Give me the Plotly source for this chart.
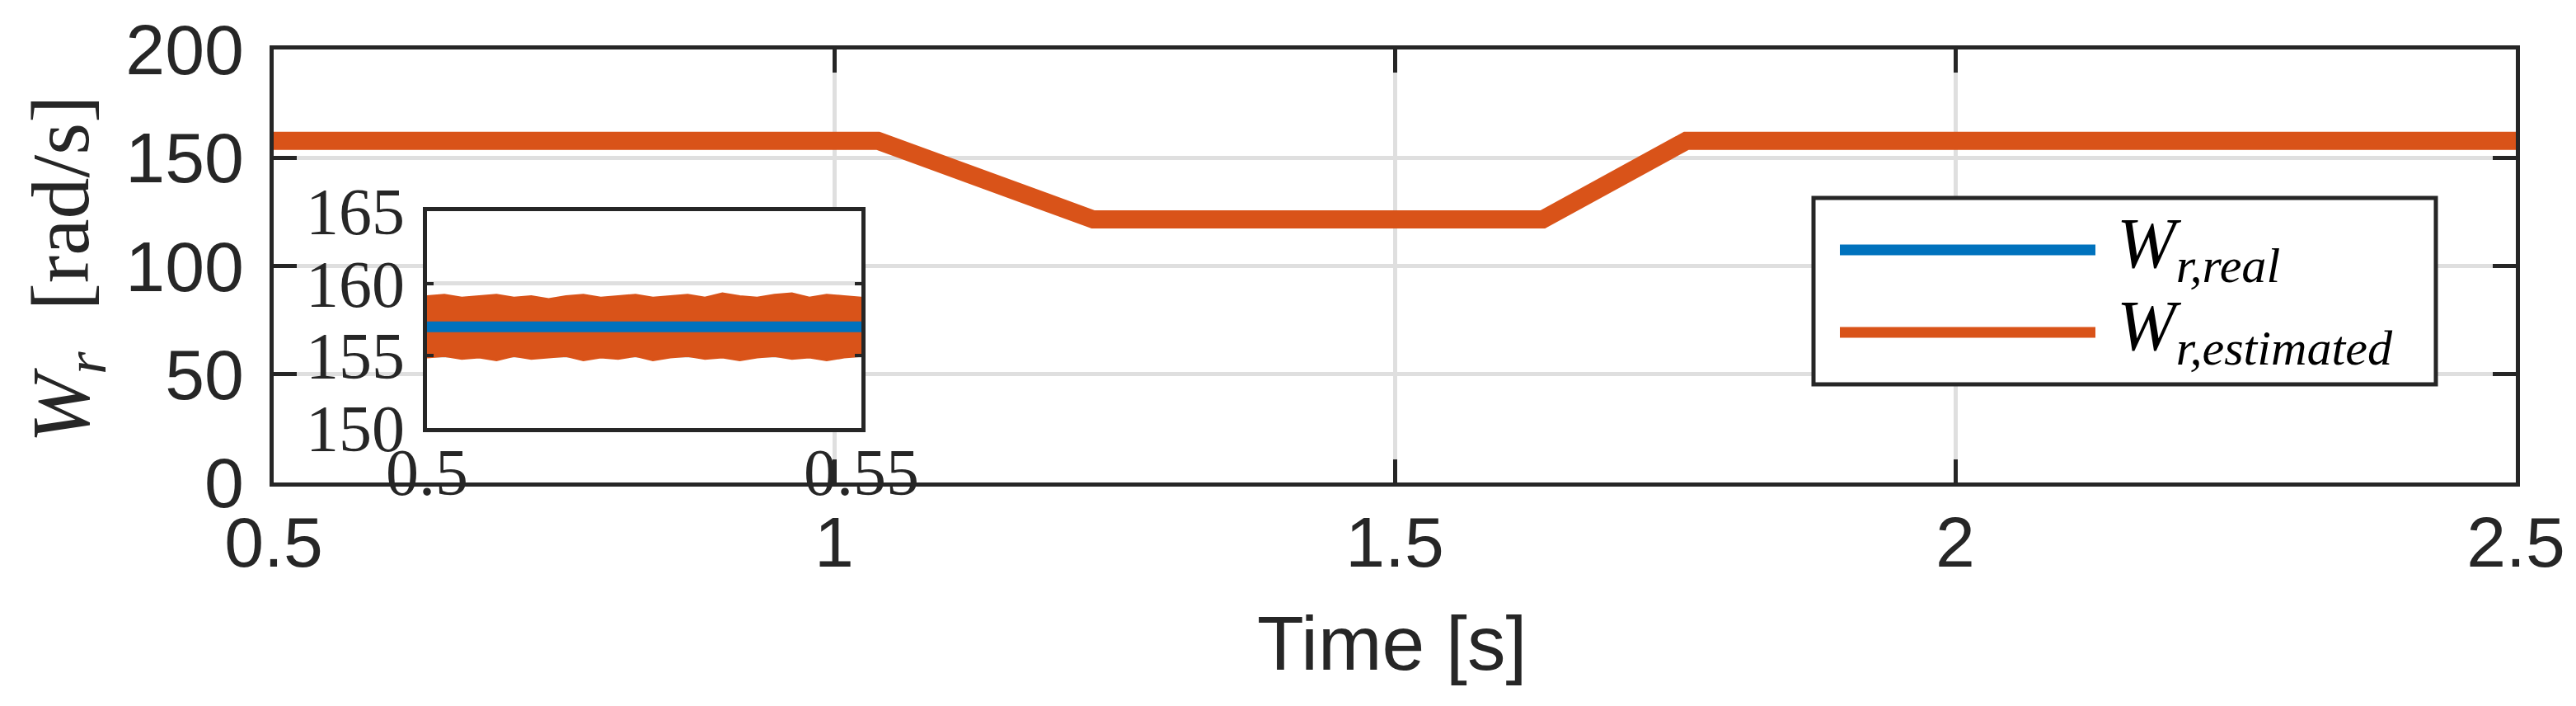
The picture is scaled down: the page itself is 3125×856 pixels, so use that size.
"""Rotor speed: real vs estimated, with zoomed inset."""

import plotly.graph_objects as go

COLORS = {
    "blue": "#0072BD",
    "orange": "#D95319",
    "axis": "#262626",
    "grid": "#DFDFDF",
}

# speed profile (breakpoints of the reference / estimated speed)
time_s = [0.5, 1.039, 1.231, 1.632, 1.76, 2.5]
w_real = [157.0, 157.0, 121.5, 121.5, 157.0, 157.0]
w_estimated = [157.8, 157.8, 121.5, 121.5, 157.8, 157.8]

# zoom window 0.5 - 0.55 s: envelope of the noisy estimate
zoom_t = [0.500, 0.502, 0.504, 0.506, 0.508, 0.510, 0.512, 0.514, 0.516,
          0.518, 0.520, 0.522, 0.524, 0.526, 0.528, 0.530, 0.532, 0.534,
          0.536, 0.538, 0.540, 0.542, 0.544, 0.546, 0.548, 0.550]
zoom_est_upper = [159.1, 159.2, 159.0, 159.1, 159.2, 159.0, 159.1, 158.9,
                  159.1, 159.2, 159.0, 159.1, 159.2, 159.0, 159.1, 159.2,
                  159.0, 159.3, 159.1, 159.0, 159.2, 159.3, 159.0, 159.2,
                  159.1, 159.0]
zoom_est_lower = [154.9, 155.0, 154.8, 154.9, 154.7, 155.0, 154.8, 154.9,
                  155.0, 154.7, 154.9, 154.8, 155.0, 154.7, 154.9, 155.0,
                  154.8, 154.9, 154.7, 154.9, 155.0, 154.8, 154.9, 154.7,
                  154.9, 155.0]
zoom_real_t = [0.5, 0.55]
zoom_real = [157.0, 157.0]

x_ticks = [0.5, 1, 1.5, 2, 2.5]
x_tick_text = ["0.5", "1", "1.5", "2", "2.5"]
y_ticks = [0, 50, 100, 150, 200]
zoom_x_ticks = [0.5, 0.55]
zoom_x_tick_text = ["0.5", "0.55"]
zoom_y_ticks = [150, 155, 160, 165]

SANS = "Liberation Sans, Arial, sans-serif"
SERIF = "Liberation Serif, Times New Roman, serif"

fig = go.Figure()

# main axes
fig.add_trace(
    go.Scatter(
        x=time_s, y=w_real, mode="lines",
        line={"color": COLORS["blue"], "width": 13},
        xaxis="x", yaxis="y", showlegend=False,
    )
)
fig.add_trace(
    go.Scatter(
        x=time_s, y=w_estimated, mode="lines",
        line={"color": COLORS["orange"], "width": 22},
        xaxis="x", yaxis="y", showlegend=False,
    )
)

# inset
fig.add_trace(
    go.Scatter(
        x=zoom_t, y=zoom_est_upper, mode="lines",
        line={"color": COLORS["orange"], "width": 3},
        xaxis="x2", yaxis="y2", showlegend=False,
    )
)
fig.add_trace(
    go.Scatter(
        x=zoom_t, y=zoom_est_lower, mode="lines",
        line={"color": COLORS["orange"], "width": 3},
        fill="tonexty", fillcolor=COLORS["orange"],
        xaxis="x2", yaxis="y2", showlegend=False,
    )
)
fig.add_trace(
    go.Scatter(
        x=zoom_real_t, y=zoom_real, mode="lines",
        line={"color": COLORS["blue"], "width": 13},
        xaxis="x2", yaxis="y2", showlegend=False,
    )
)

W, H = 3125, 856


def px_x(v):
    return v / W


def px_y(v):
    return (H - v) / H


axis_common = {
    "showline": True,
    "linewidth": 5,
    "linecolor": COLORS["axis"],
    "mirror": "ticks",
    "ticks": "inside",
    "tickcolor": COLORS["axis"],
    "showgrid": True,
    "gridcolor": COLORS["grid"],
    "gridwidth": 5,
    "zeroline": False,
    "automargin": False,
}

fig.update_layout(
    template="none",
    width=W,
    height=H,
    autosize=False,
    margin={"l": 0, "r": 0, "t": 0, "b": 0, "pad": 0, "autoexpand": False},
    plot_bgcolor="white",
    paper_bgcolor="white",
    showlegend=False,
    xaxis={
        **axis_common,
        "domain": [px_x(324), px_x(3044)],
        "range": [0.5, 2.5],
        "tickvals": x_ticks,
        "ticktext": x_tick_text,
        "ticklen": 28,
        "tickwidth": 5,
        "ticklabelstandoff": -6,
        "tickfont": {"family": SANS, "size": 86, "color": COLORS["axis"]},
        "anchor": "y",
    },
    yaxis={
        **axis_common,
        "domain": [px_y(577), px_y(52)],
        "range": [0, 200],
        "tickvals": y_ticks,
        "ticklen": 28,
        "tickwidth": 5,
        "ticklabelstandoff": 14,
        "tickfont": {"family": SANS, "size": 86, "color": COLORS["axis"]},
        "anchor": "x",
    },
    xaxis2={
        **axis_common,
        "domain": [px_x(510), px_x(1037)],
        "range": [0.5, 0.55],
        "tickvals": zoom_x_ticks,
        "ticktext": zoom_x_tick_text,
        "ticklen": 8,
        "tickwidth": 4,
        "ticklabelstandoff": -20,
        "tickfont": {"family": SERIF, "size": 80, "color": COLORS["axis"]},
        "anchor": "y2",
    },
    yaxis2={
        **axis_common,
        "domain": [px_y(511), px_y(248)],
        "range": [150, 165],
        "tickvals": zoom_y_ticks,
        "ticklen": 8,
        "tickwidth": 4,
        "ticklabelstandoff": 6,
        "tickfont": {"family": SERIF, "size": 80, "color": COLORS["axis"]},
        "anchor": "x2",
    },
)

# axis titles
fig.add_annotation(
    text="Time [s]",
    x=px_x(1680), y=px_y(772), xref="paper", yref="paper",
    xanchor="center", yanchor="middle", showarrow=False,
    font={"family": SANS, "size": 93, "color": COLORS["axis"]},
)
fig.add_annotation(
    text="<i>W</i><sub><i>r</i></sub>  [rad/s]",
    x=px_x(72), y=px_y(318), xref="paper", yref="paper",
    xanchor="center", yanchor="middle", showarrow=False, textangle=-90,
    font={"family": SERIF, "size": 100, "color": COLORS["axis"]},
)

# legend box drawn by hand (long line samples as in the original)
fig.add_shape(
    type="rect", xref="paper", yref="paper",
    x0=px_x(2192), x1=px_x(2947), y0=px_y(458), y1=px_y(232),
    line={"color": COLORS["axis"], "width": 5}, fillcolor="white", layer="above",
)
legend_items = [
    ("<i>W</i><sub><i>r,real</i></sub>", COLORS["blue"], 295),
    ("<i>W</i><sub><i>r,estimated</i></sub>", COLORS["orange"], 395),
]
for label, color, yy in legend_items:
    fig.add_shape(
        type="line", xref="paper", yref="paper",
        x0=px_x(2224), x1=px_x(2534), y0=px_y(yy), y1=px_y(yy),
        line={"color": color, "width": 13}, layer="above",
    )
    fig.add_annotation(
        text=label,
        x=px_x(2558), y=px_y(yy - 2), xref="paper", yref="paper",
        xanchor="left", yanchor="middle", showarrow=False,
        font={"family": SERIF, "size": 86, "color": "black"},
    )

fig.write_html("out.html")
